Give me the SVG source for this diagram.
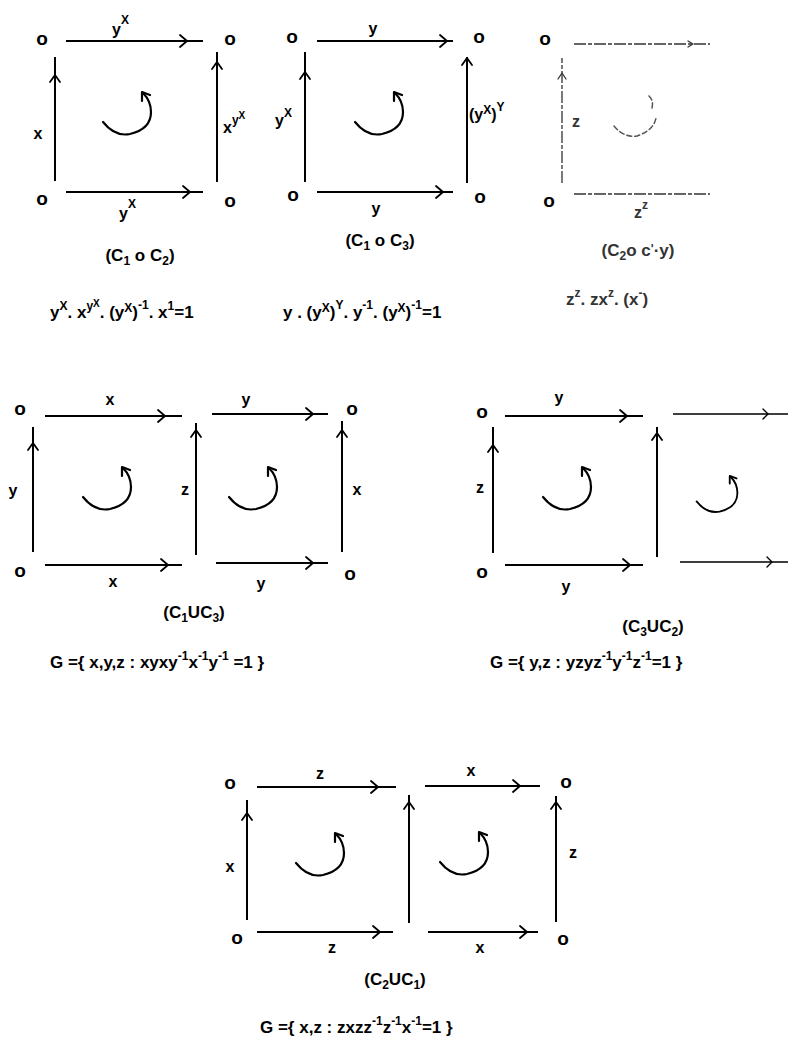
<svg xmlns="http://www.w3.org/2000/svg" width="788" height="1041" viewBox="0 0 788 1041">
<style>
.t{font-family:"Liberation Sans",Arial,sans-serif;font-weight:bold;fill:#000}
.o{font-size:19px;text-anchor:middle}
.lbl{font-size:16px;text-anchor:middle}
.lbs{font-size:16px}
.cap{font-size:17px;text-anchor:middle}
.f{font-size:17px}
.s{font-size:12px}
.ss{font-size:10px}
.ln{stroke:#000;stroke-width:2;fill:none}
.hd{stroke:#000;stroke-width:1.8;fill:none;stroke-linecap:round;stroke-linejoin:round}
.fl{stroke:#333;stroke-width:1.3;fill:none;stroke-dasharray:12 2 4 2}
.ft{fill:#333}
.curl{stroke:#000;stroke-width:2.2;fill:none;stroke-linecap:round;stroke-linejoin:round}
</style>
<defs>
<g id="curl">
<path d="M-24,4 Q-12,19 3,16 Q24,11 24,-6 Q24,-17 16,-25"/>
<path d="M15,-17 L15,-26 L23,-23"/>
</g>
<g id="curlf">
<path d="M-20,6 Q-10,18 3,16 Q20,10 22,-2"/>
<path d="M18,-12 Q20,-20 14,-25"/>
</g>
</defs>

<!-- vertices -->
<g id="d1-n1"><text class="t o" x="42" y="45">o</text></g>
<g id="d1-n2"><text class="t o" x="230" y="45">o</text></g>
<g id="d1-n3"><text class="t o" x="42" y="205">o</text></g>
<g id="d1-n4"><text class="t o" x="230" y="207">o</text></g>

<g id="d2-n1"><text class="t o" x="292" y="43">o</text></g>
<g id="d2-n2"><text class="t o" x="479" y="43">o</text></g>
<g id="d2-n3"><text class="t o" x="293" y="201">o</text></g>
<g id="d2-n4"><text class="t o" x="480" y="203">o</text></g>

<g id="d3-n1"><text class="t o" x="545" y="45">o</text></g>
<g id="d3-n2"><text class="t o" x="549" y="207">o</text></g>

<g id="d4-n1"><text class="t o" x="20" y="415">o</text></g>
<g id="d4-n2"><text class="t o" x="352" y="415">o</text></g>
<g id="d4-n3"><text class="t o" x="20" y="577">o</text></g>
<g id="d4-n4"><text class="t o" x="350" y="580">o</text></g>

<g id="d5-n1"><text class="t o" x="482" y="418">o</text></g>
<g id="d5-n2"><text class="t o" x="482" y="578">o</text></g>

<g id="d6-n1"><text class="t o" x="230" y="789">o</text></g>
<g id="d6-n2"><text class="t o" x="566" y="788">o</text></g>
<g id="d6-n3"><text class="t o" x="237" y="944">o</text></g>
<g id="d6-n4"><text class="t o" x="563" y="945">o</text></g>

<!-- connectors -->
<g id="connectors">
  <!-- d1 -->
  <path class="ln" d="M66,41 H203 M66,192 H203 M55,181 V57 M217,182 V52"/>
  <path class="hd" d="M180,35 L187,41 L180,47 M183,186 L190,192 L183,198 M50,82 L55,75 L60,82 M212,69 L217,62 L222,69"/>
  <!-- d2 -->
  <path class="ln" d="M317,41 H453 M317,192 H453 M305,182 V52 M467,183 V57"/>
  <path class="hd" d="M440,35 L447,41 L440,47 M436,186 L443,192 L436,198 M300,79 L305,72 L310,79 M462,65 L467,58 L472,65"/>
  <!-- d3 (faded) -->
  <path class="fl" d="M574,44 H710 M562,183 V58 M574,194 H710"/>
  <path class="hd" style="stroke:#333;stroke-width:1.3" d="M558,79 L562,73 L566,79 M688,41 L693,44 L688,47"/>
  <!-- d4 -->
  <path class="ln" d="M45,416 H182 M212,414 H328 M45,565 H182 M216,563 H328 M33,552 V427 M196,555 V423 M342,552 V421"/>
  <path class="hd" d="M158,410 L165,416 L158,422 M306,408 L313,414 L306,420 M161,559 L168,565 L161,571 M306,557 L313,563 L306,569 M28,450 L33,443 L38,450 M191,437 L196,430 L201,437 M337,437 L342,430 L347,437"/>
  <!-- d5 -->
  <path class="ln" d="M505,416 H643 M505,565 H643 M493,553 V427 M657,557 V427"/>
  <path class="ln" style="stroke-width:1.5" d="M673,414 H788 M680,562 H788"/>
  <path class="hd" d="M620,410 L627,416 L620,422 M623,559 L630,565 L623,571 M488,452 L493,445 L498,452 M652,440 L657,433 L662,440"/>
  <path class="hd" style="stroke-width:1.4" d="M763,409 L768,414 L763,419 M767,557 L772,562 L767,567"/>
  <!-- d6 -->
  <path class="ln" d="M257,787 H396 M425,786 H540 M257,932 H393 M428,932 H538 M247,920 V800 M409,923 V795 M556,922 V796"/>
  <path class="hd" d="M371,781 L378,787 L371,793 M513,780 L520,786 L513,792 M373,926 L380,932 L373,938 M520,926 L527,932 L520,938 M242,820 L247,813 L252,820 M404,809 L409,802 L414,809 M551,809 L556,802 L561,809"/>
</g>

<!-- rotation arrows -->
<g id="rotations" class="curl">
  <use href="#curl" transform="translate(127,118)"/>
  <use href="#curl" transform="translate(379,118)"/>
  <use href="#curlf" transform="translate(634,120)" style="stroke:#555;stroke-width:1.5;stroke-dasharray:5 3"/>
  <use href="#curl" transform="translate(107,493)"/>
  <use href="#curl" transform="translate(253,493)"/>
  <use href="#curl" transform="translate(567,493)"/>
  <use href="#curl" transform="translate(717,498) scale(0.85)"/>
  <use href="#curl" transform="translate(320,859)"/>
  <use href="#curl" transform="translate(464,858)"/>
</g>

<!-- edge labels -->
<g id="labels">
  <!-- d1 -->
  <text class="t lbs" x="112" y="35">y<tspan class="s" dy="-11">X</tspan></text>
  <text class="t lbl" x="38" y="139">x</text>
  <text class="t lbs" x="223" y="133">x<tspan class="s" dy="-9">y</tspan><tspan class="ss" dy="-5">X</tspan></text>
  <text class="t lbs" x="119" y="219">y<tspan class="s" dy="-11">X</tspan></text>
  <!-- d2 -->
  <text class="t lbl" x="373" y="34">y</text>
  <text class="t lbs" x="275" y="126">y<tspan class="s" dy="-9">X</tspan></text>
  <text class="t lbs" x="469" y="120">(y<tspan class="s" dy="-6">X</tspan><tspan dy="6">)</tspan><tspan class="s" dy="-9">Y</tspan></text>
  <text class="t lbl" x="376" y="214">y</text>
  <!-- d3 -->
  <text class="t lbl ft" x="576" y="127">z</text>
  <text class="t lbs ft" x="634" y="218">z<tspan class="s" dy="-9">z</tspan></text>
  <!-- d4 -->
  <text class="t lbl" x="110" y="405">x</text>
  <text class="t lbl" x="246" y="405">y</text>
  <text class="t lbl" x="13" y="496">y</text>
  <text class="t lbl" x="185" y="495">z</text>
  <text class="t lbl" x="357" y="495">x</text>
  <text class="t lbl" x="113" y="587">x</text>
  <text class="t lbl" x="261" y="589">y</text>
  <!-- d5 -->
  <text class="t lbl" x="559" y="403">y</text>
  <text class="t lbl" x="480" y="493">z</text>
  <text class="t lbl" x="566" y="592">y</text>
  <!-- d6 -->
  <text class="t lbl" x="320" y="779">z</text>
  <text class="t lbl" x="471" y="776">x</text>
  <text class="t lbl" x="230" y="872">x</text>
  <text class="t lbl" x="573" y="858">z</text>
  <text class="t lbl" x="332" y="953">z</text>
  <text class="t lbl" x="480" y="953">x</text>
</g>

<!-- captions -->
<g id="captions">
  <text class="t cap" x="140" y="261">(C<tspan class="s" dy="4">1</tspan><tspan dy="-4"> o C</tspan><tspan class="s" dy="4">2</tspan><tspan dy="-4">)</tspan></text>
  <text class="t cap" x="380" y="246">(C<tspan class="s" dy="4">1</tspan><tspan dy="-4"> o C</tspan><tspan class="s" dy="4">3</tspan><tspan dy="-4">)</tspan></text>
  <text class="t cap ft" x="638" y="256">(C<tspan class="s" dy="4">2</tspan><tspan dy="-4">o c</tspan><tspan class="s" dy="-3">'</tspan><tspan dy="3">·y)</tspan></text>
  <text class="t cap" x="194" y="618">(C<tspan class="s" dy="4">1</tspan><tspan dy="-4">UC</tspan><tspan class="s" dy="4">3</tspan><tspan dy="-4">)</tspan></text>
  <text class="t cap" x="653" y="632">(C<tspan class="s" dy="4">3</tspan><tspan dy="-4">UC</tspan><tspan class="s" dy="4">2</tspan><tspan dy="-4">)</tspan></text>
  <text class="t cap" x="395" y="985">(C<tspan class="s" dy="4">2</tspan><tspan dy="-4">UC</tspan><tspan class="s" dy="4">1</tspan><tspan dy="-4">)</tspan></text>
</g>

<!-- formulas -->
<g id="formulas">
  <text class="t f" x="50" y="318">y<tspan class="s" dy="-8">X</tspan><tspan dy="8">. x</tspan><tspan class="s" dy="-8">y</tspan><tspan class="ss" dy="-3">X</tspan><tspan dy="11">. (y</tspan><tspan class="s" dy="-6">X</tspan><tspan dy="6">)</tspan><tspan class="s" dy="-9">-1</tspan><tspan dy="9">. x</tspan><tspan class="s" dy="-8">1</tspan><tspan dy="8">=1</tspan></text>
  <text class="t f" x="283" y="318">y . (y<tspan class="s" dy="-6">X</tspan><tspan dy="6">)</tspan><tspan class="s" dy="-9">Y</tspan><tspan dy="9">. y</tspan><tspan class="s" dy="-9">-1</tspan><tspan dy="9">. (y</tspan><tspan class="s" dy="-6">X</tspan><tspan dy="6">)</tspan><tspan class="s" dy="-9">-1</tspan><tspan dy="9">=1</tspan></text>
  <text class="t f ft" x="566" y="305">z<tspan class="s" dy="-8">z</tspan><tspan dy="8">. zx</tspan><tspan class="s" dy="-8">z</tspan><tspan dy="8">. (x</tspan><tspan class="s" dy="-8">-</tspan><tspan dy="8">)</tspan></text>
  <text class="t f" x="50" y="668">G ={ x,y,z : xyxy<tspan class="s" dy="-8">-1</tspan><tspan dy="8">x</tspan><tspan class="s" dy="-8">-1</tspan><tspan dy="8">y</tspan><tspan class="s" dy="-8">-1</tspan><tspan dy="8"> =1 }</tspan></text>
  <text class="t f" x="490" y="668">G ={ y,z : yzyz<tspan class="s" dy="-8">-1</tspan><tspan dy="8">y</tspan><tspan class="s" dy="-8">-1</tspan><tspan dy="8">z</tspan><tspan class="s" dy="-8">-1</tspan><tspan dy="8">=1 }</tspan></text>
  <text class="t f" x="260" y="1033">G ={ x,z : zxzz<tspan class="s" dy="-8">-1</tspan><tspan dy="8">z</tspan><tspan class="s" dy="-8">-1</tspan><tspan dy="8">x</tspan><tspan class="s" dy="-8">-1</tspan><tspan dy="8">=1 }</tspan></text>
</g>
</svg>
